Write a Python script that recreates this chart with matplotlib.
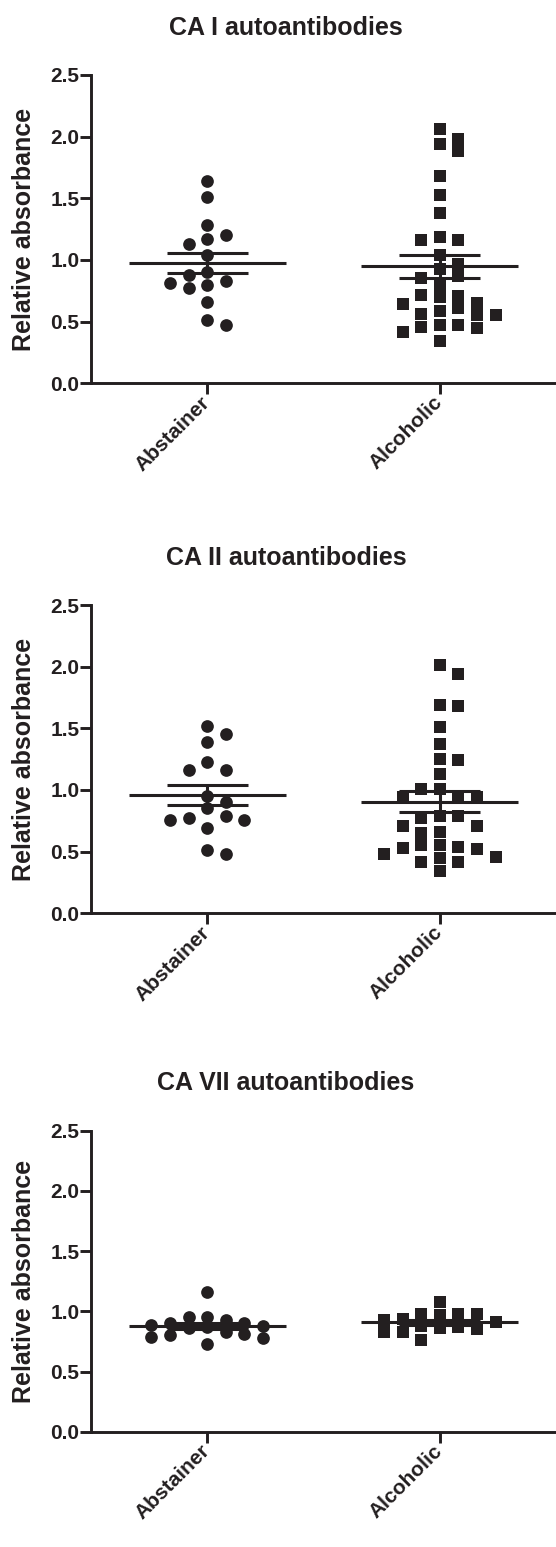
import numpy as np
import matplotlib
matplotlib.use('Agg')
import matplotlib.pyplot as plt

plt.rcParams['font.family'] = ['Liberation Sans', 'DejaVu Sans']
plt.rcParams['font.weight'] = 'bold'

# ---------------- data ----------------
categories = ['Abstainer', 'Alcoholic']
titles = ['CA I autoantibodies', 'CA II autoantibodies', 'CA VII autoantibodies']
y_ticks = [0.0, 0.5, 1.0, 1.5, 2.0, 2.5]
y_tick_labels = ['0.0', '0.5', '1.0', '1.5', '2.0', '2.5']
y_label = 'Relative absorbance'

ca1_abst = [1.64, 1.51, 1.28, 1.20, 1.17, 1.13, 1.04, 0.90, 0.88, 0.81, 0.83,
            0.80, 0.77, 0.66, 0.47, 0.51]
ca1_alc = [2.06, 1.98, 1.94, 1.88, 1.68, 1.53, 1.38, 1.19, 1.16, 1.16, 1.04,
           0.97, 0.93, 0.87, 0.85, 0.80, 0.71, 0.70, 0.72, 0.64, 0.59, 0.55,
           0.45, 0.55, 0.56, 0.61, 0.65, 0.47, 0.42, 0.46, 0.47, 0.34]
ca2_abst = [1.52, 1.45, 1.39, 1.23, 1.16, 1.16, 0.95, 0.90, 0.85, 0.77, 0.76,
            0.76, 0.79, 0.69, 0.48, 0.51]
ca2_alc = [2.01, 1.94, 1.68, 1.69, 1.51, 1.37, 1.25, 1.24, 1.13, 1.01, 1.01,
           0.94, 0.94, 0.94, 0.79, 0.77, 0.79, 0.71, 0.71, 0.65, 0.66, 0.55,
           0.46, 0.53, 0.42, 0.52, 0.54, 0.42, 0.55, 0.45, 0.48, 0.34]
ca7_abst = [1.16, 0.95, 0.93, 0.80, 0.89, 0.79, 0.90, 0.73, 0.90, 0.78, 0.95,
            0.83, 0.81, 0.87, 0.88, 0.86]
ca7_alc = [1.08, 0.98, 0.97, 0.83, 0.93, 0.85, 0.76, 0.94, 0.83, 0.98, 0.86,
           0.98, 0.91, 0.88, 0.87]

# ---------------- layout ----------------
W, H = 556, 1547
INK = '#231f20'
fig = plt.figure(figsize=(W / 100, H / 100), dpi=100)

AX_LEFT, AX_RIGHT = 91, 556
panels = [
    (ca1_abst, ca1_alc, 75.0, 383.3, 28.0),
    (ca2_abst, ca2_alc, 605.0, 913.3, 558.0),
    (ca7_abst, ca7_alc, 1130.7, 1431.7, 1083.5),
]

X_LO, X_HI = 0.5, 2.5
px_per_x = (AX_RIGHT - AX_LEFT) / (X_HI - X_LO)
COL_PX = 18.6
DIAM_PX = 12.7
GAP_PX = 12.3
MAX_COL = 3
MS = DIAM_PX * 72 / 100
MEAN_HALF = 78.5 / px_per_x
SEM_HALF = 40.5 / px_per_x
LW = 2.2
TITLE_X = 286


def swarm(values, center, px_per_y):
    vals = np.asarray(values, dtype=float)
    order = np.argsort(-vals, kind='stable')
    placed = []
    xs = np.zeros(len(vals))
    for n, i in enumerate(order):
        ypx = vals[i] * px_per_y
        sgn = -1 if n % 2 == 0 else 1
        cands = [0]
        for j in range(1, MAX_COL + 1):
            cands += [sgn * j, -sgn * j]
        best, best_d = None, -1.0
        for c in cands:
            d = min([abs(py - ypx) for pc, py in placed if pc == c] + [1e9])
            if d >= GAP_PX:
                best = c
                break
            if d > best_d:
                best, best_d = c, d
        placed.append((best, ypx))
        xs[i] = center + best * COL_PX / px_per_x
    return xs


for k, (abst, alc, top_px, bot_px, title_y) in enumerate(panels):
    ax = fig.add_axes([AX_LEFT / W, 1 - bot_px / H,
                       (AX_RIGHT - AX_LEFT) / W, (bot_px - top_px) / H])
    ax.set_xlim(X_LO, X_HI)
    ax.set_ylim(0, 2.5)
    px_per_y = (bot_px - top_px) / 2.5

    for gi, (vals, marker) in enumerate([(abst, 'o'), (alc, 's')]):
        center = gi + 1
        xs = swarm(vals, center, px_per_y)
        ax.plot(xs, vals, linestyle='none', marker=marker, ms=MS,
                mfc=INK, mec=INK, mew=0, clip_on=False, zorder=3)
        m = np.mean(vals)
        s = np.std(vals, ddof=1) / np.sqrt(len(vals))
        ax.plot([center - MEAN_HALF, center + MEAN_HALF], [m, m],
                color=INK, lw=LW, solid_capstyle='butt', zorder=4)
        for v in (m - s, m + s):
            ax.plot([center - SEM_HALF, center + SEM_HALF], [v, v],
                    color=INK, lw=LW, solid_capstyle='butt', zorder=4)
        ax.plot([center, center], [m - s, m + s], color=INK, lw=LW,
                solid_capstyle='butt', zorder=4)

    for side in ('top', 'right'):
        ax.spines[side].set_visible(False)
    for side in ('left', 'bottom'):
        ax.spines[side].set_linewidth(2.1)
        ax.spines[side].set_color(INK)
    ax.set_yticks(y_ticks)
    ax.set_yticklabels(y_tick_labels, fontsize=15, fontweight='bold', color=INK)
    ax.set_xticks([1, 2])
    ax.set_xticklabels(categories, fontsize=15, fontweight='bold', color=INK,
                       rotation=45, ha='right', va='center',
                       rotation_mode='anchor')
    ax.tick_params(axis='y', direction='out', length=7.7, width=2.1,
                   color=INK, pad=0.5)
    ax.tick_params(axis='x', direction='out', length=7.7, width=2.1,
                   color=INK, pad=4)
    fig.text(24 / W, 1 - ((top_px + bot_px) / 2) / H, y_label, fontsize=18,
             fontweight='bold', color=INK, rotation=90, ha='center',
             va='center')
    fig.text(TITLE_X / W, 1 - title_y / H, titles[k], fontsize=18,
             fontweight='bold', color=INK, ha='center', va='center')

fig.savefig('out.png', dpi=100)
